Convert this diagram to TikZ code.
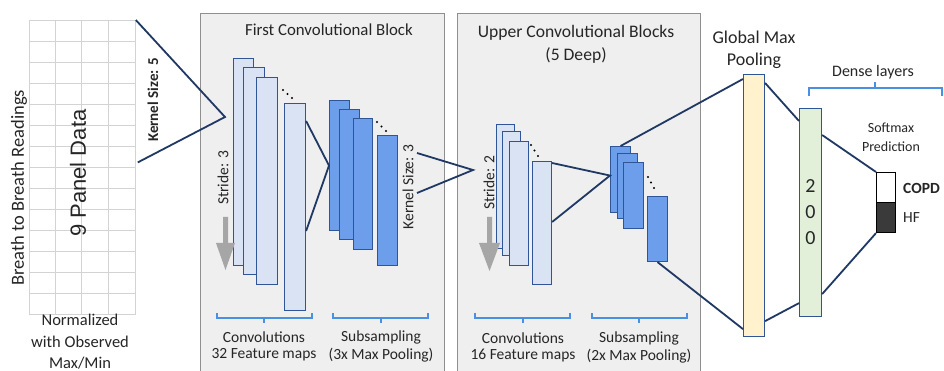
\documentclass[tikz,border=0pt]{standalone}
\usepackage{fontspec}
\setmainfont{Carlito}
\newfontfamily\arialfont{Liberation Sans}
\usetikzlibrary{calc}
\definecolor{boxfill}{HTML}{EFEFEF}
\definecolor{boxdraw}{HTML}{8F8F8F}
\definecolor{convfill}{HTML}{DAE3F3}
\definecolor{mapdraw}{HTML}{2F5597}
\definecolor{subfill}{HTML}{6D9EEB}
\definecolor{linkcol}{HTML}{1F3864}
\definecolor{bracecol}{HTML}{4A90E2}
\definecolor{gmpfill}{HTML}{FFF2CC}
\definecolor{densefill}{HTML}{E2F0D9}
\definecolor{gridcol}{HTML}{D3D3D3}
\definecolor{txt}{HTML}{262626}
\definecolor{arrowgray}{HTML}{A6A6A6}
\definecolor{smdark}{HTML}{3A3A3A}
\tikzset{
  blockbox/.style={draw=boxdraw, fill=boxfill, line width=0.9pt},
  fmap/.style={draw=mapdraw, line width=1.1pt, inner sep=0pt, anchor=north west},
  convmap/.style={fmap, fill=convfill},
  submap/.style={fmap, fill=subfill},
  link/.style={draw=linkcol, line width=1.8pt},
  bracket/.style={draw=bracecol, line width=1.2pt},
  lbl/.style={text=txt, font=\fontsize{15.5}{18}\selectfont, align=center, inner sep=0pt},
  title/.style={lbl, font=\fontsize{16.8}{22}\selectfont},
  rot/.style={lbl, rotate=90},
  dotc/.style={fill=black, draw=none, circle, minimum size=2.4pt, inner sep=0pt},
  stridearrow/.style={fill=arrowgray, draw=none}
}
\newcommand{\mapnode}[6]{\node[#1, minimum width=#4pt, minimum height=#5pt] (#2) at (#3) {#6};}
\begin{document}
\begin{tikzpicture}[x=1pt,y=-1pt]
\useasboundingbox (0,0) rectangle (944,371);
\fill[white] (0,0) rectangle (944,371);
% blocks
\path[blockbox] (200,13) rectangle (444,380);
\path[blockbox] (457,13) rectangle (700,380);
% input grid
\node[draw=gridcol, line width=0.8pt, minimum width=106pt, minimum height=294pt, inner sep=0pt, anchor=north west] (grid) at (29,20) {};
\foreach \xx in {55,81,108} \draw[gridcol, line width=0.8pt] (\xx,20) -- (\xx,314);
\foreach \k in {1,...,13} \draw[gridcol, line width=0.8pt] (29,{20+\k*21}) -- (135,{20+\k*21});
\node[rot, font=\fontsize{18.5}{20}\selectfont] (breath) at (19,188) {Breath to Breath Readings};
\node[text=txt, inner sep=0pt, rotate=90, anchor=west, font=\arialfont\fontsize{22}{24}\selectfont] (panel) at (78,237) {9 Panel Data};
\node[lbl, font=\fontsize{16.5}{21.5}\selectfont] (norm) at (80,342) {Normalized\\with Observed\\Max/Min};
\node[rot, font=\bfseries\fontsize{15}{17}\selectfont] (ks5) at (153,100) {Kernel Size: 5};
% first block
\node[title] (t1) at (329,30) {First Convolutional Block};
\mapnode{convmap}{c1}{233,58}{20}{207}{}
\mapnode{convmap}{c2}{243,67}{21}{207}{}
\mapnode{convmap}{c3}{256,77}{21}{207}{}
\mapnode{convmap}{c4}{284,103}{21}{207}{}
\foreach \t in {0,0.5,1} \node[dotc] at ($(283,90)!\t!(292,98)$) {};
\mapnode{submap}{s1}{329,100}{20}{130}{}
\mapnode{submap}{s2}{339,109}{20}{130}{}
\mapnode{submap}{s3}{353,118}{19}{131}{}
\mapnode{submap}{s4}{377,135}{20}{130}{}
\foreach \t in {0,0.5,1} \node[dotc] at ($(377,122)!\t!(386,131)$) {};
\node[rot] (st3) at (223,178) {Stride: 3};
\path[stridearrow] (223,217) -- (228,217) -- (228,243) -- (235,243) -- (225.5,270) -- (216,243) -- (223,243) -- cycle;
\node[rot] (ks3) at (408,187) {Kernel Size: 3};
\path[bracket] (217,313) -- (217,318) -- (312,318) -- (312,313) (264,318) -- (264,323);
\path[bracket] (333,313) -- (333,318) -- (428,318) -- (428,313) (381,318) -- (381,323);
\node[lbl] (cv1) at (264,337) {Convolutions};
\node[lbl] (fm1) at (264,355) {32 Feature maps};
\node[lbl] (ss1) at (381,337) {Subsampling};
\node[lbl] (mp1) at (381,355) {(3x Max Pooling)};
% second block
\node[title, font=\fontsize{17.6}{22}\selectfont] (t2) at (576,33) {Upper Convolutional Blocks};
\node[title, font=\fontsize{17.6}{22}\selectfont] (t2b) at (576,55) {(5 Deep)};
\mapnode{convmap}{r1}{496,124}{18}{124}{}
\mapnode{convmap}{r2}{502,131}{18}{124}{}
\mapnode{convmap}{r3}{509,141}{19}{124}{}
\mapnode{convmap}{r4}{532,161}{19}{123}{}
\foreach \t in {0,0.5,1} \node[dotc] at ($(531,145)!\t!(538,156)$) {};
\mapnode{submap}{q1}{610,146}{20}{66}{}
\mapnode{submap}{q2}{617,153}{20}{65}{}
\mapnode{submap}{q3}{623,162}{20}{66}{}
\mapnode{submap}{q4}{647,196}{20}{65}{}
\foreach \t in {0,0.5,1} \node[dotc] at ($(648,177)!\t!(654,188)$) {};
\node[rot] (st2) at (489,183) {Stride: 2};
\path[stridearrow] (487,217) -- (492,217) -- (492,243) -- (500,243) -- (489.5,271) -- (479,243) -- (487,243) -- cycle;
\path[bracket] (475,313) -- (475,318) -- (570,318) -- (570,313) (523,318) -- (523,323);
\path[bracket] (592,313) -- (592,318) -- (687,318) -- (687,313) (639,318) -- (639,323);
\node[lbl] (cv2) at (523,338) {Convolutions};
\node[lbl] (fm2) at (523,356) {16 Feature maps};
\node[lbl] (ss2) at (639,338) {Subsampling};
\node[lbl] (mp2) at (639,356) {(2x Max Pooling)};
% global max pooling and dense
\node[lbl, font=\fontsize{18}{22}\selectfont] (gmpl) at (754,50) {Global Max\\Pooling};
\mapnode{fmap, fill=gmpfill}{gmp}{743,74}{21}{262}{}
\mapnode{fmap, fill=densefill, align=center, text=txt, font=\fontsize{20}{26}\selectfont}{dense}{799,108}{22}{208}{2\\0\\0}
\node[lbl, font=\fontsize{16}{18}\selectfont] (dl) at (873,72) {Dense layers};
\path[bracket] (809,96) -- (809,88) -- (942,88) -- (942,96) (875,88) -- (875,82);
\node[lbl, font=\fontsize{14}{19}\selectfont] (smx) at (891,137) {Softmax\\Prediction};
\node[draw=black, line width=1.1pt, fill=white, minimum width=19pt, minimum height=30pt, inner sep=0pt, anchor=north west] (smt) at (876,172) {};
\node[draw=black, line width=1.1pt, fill=smdark, minimum width=19pt, minimum height=30pt, inner sep=0pt, anchor=north west] (smb) at (876,202) {};
\node[lbl, font=\bfseries\fontsize{15.5}{17}\selectfont, anchor=west] (copd) at (903,188) {COPD};
\node[lbl, font=\fontsize{15.5}{17}\selectfont, anchor=west] (hf) at (903,218) {HF};
% connectors
\coordinate (k1) at (225,117);
\draw[link] (grid.north east) -- (k1) -- ([xshift=2pt,yshift=5pt]grid.east);
\draw[link] ([yshift=-18pt]c4.north east) -- (s1.west) -- ([yshift=-128pt]c4.north east);
\coordinate (ka) at (417,153);
\coordinate (kb) at (417,193);
\coordinate (k2) at (473,170);
\draw[link] (ka) -- (k2) -- (kb);
\draw[link] ([yshift=-2pt]r4.north east) -- ([yshift=4pt]q1.west) -- ([yshift=-61pt]r4.north east);
\draw[link] (q1.north) -- ([yshift=-5pt]gmp.north west);
\draw[link] (q4.south) -- ([yshift=8pt]gmp.south west);
\draw[link] ([yshift=-9pt]gmp.north east) -- ([yshift=-13pt]dense.north west);
\draw[link] ([yshift=16pt]gmp.south east) -- ([yshift=14pt]dense.south west);
\draw[link] ([yshift=-27pt]dense.north east) -- (smt.north west);
\draw[link] ([yshift=23pt]dense.south east) -- (smb.south west);
\end{tikzpicture}
\end{document}
